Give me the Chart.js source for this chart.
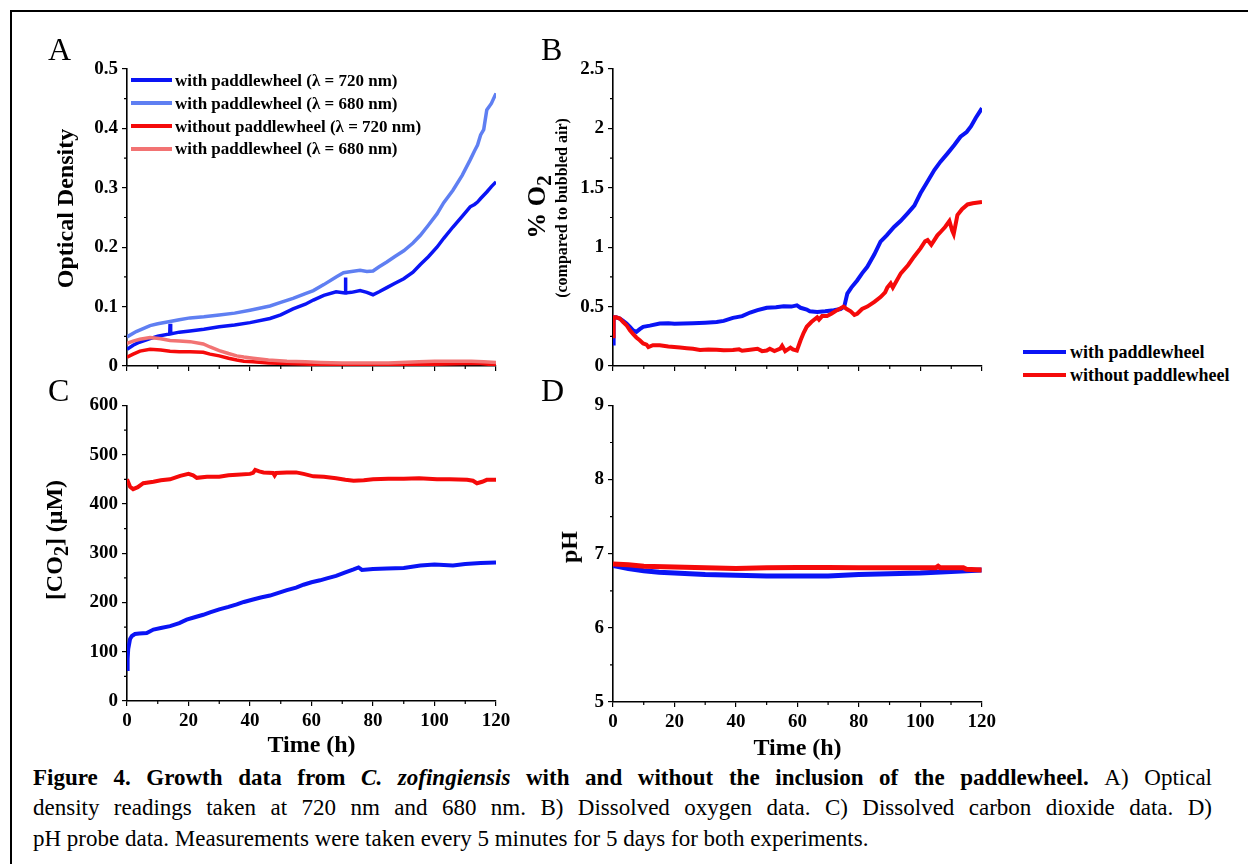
<!DOCTYPE html>
<html>
<head>
<meta charset="utf-8">
<script src="https://cdn.jsdelivr.net/npm/chart.js@4"></script>
<style>
  body { margin: 0; width: 1248px; height: 864px; position: relative; overflow: hidden; background: #fff;
         font-family: "Liberation Serif", "Times New Roman", serif; color: #000; }
  canvas { position: absolute; }
  .t { position: absolute; white-space: nowrap; line-height: 1; }
  .b { font-weight: bold; }
  .t sub { font-size: 0.62em; vertical-align: baseline; position: relative; top: 0.3em; }
  .rot { position: absolute; left: 0; top: 0; white-space: nowrap; line-height: 1; font-weight: bold; transform-origin: 0 0; }
  .key { position: absolute; height: 4px; }
  .cap { position: absolute; left: 33px; width: 1179px; font-size: 23px; line-height: 1; white-space: nowrap; }
  .just { text-align: justify; text-align-last: justify; }
</style>
</head>
<body>
<div style="position:absolute;left:10px;top:10px;width:1238px;height:2px;background:#000"></div>
<div style="position:absolute;left:10px;top:10px;width:2px;height:854px;background:#000"></div>

<canvas id="chartA"></canvas>
<canvas id="chartB"></canvas>
<canvas id="chartC"></canvas>
<canvas id="chartD"></canvas>

<div id="labels"></div>

<div class="cap just b" style="top:765.7px">Figure 4. Growth data from <i>C. zofingiensis</i> with and without the inclusion of the paddlewheel. <span style="font-weight:normal">A) Optical</span></div>
<div class="cap just" style="top:795.7px">density readings taken at 720 nm and 680 nm. B) Dissolved oxygen data. C) Dissolved carbon dioxide data. D)</div>
<div class="cap" style="top:826.7px">pH probe data. Measurements were taken every 5 minutes for 5 days for both experiments.</div>

<script>
// ---- ticks ----
const timeTicks = [0, 20, 40, 60, 80, 100, 120];
const odTicks = [0, 0.1, 0.2, 0.3, 0.4, 0.5];
const o2Ticks = [0, 0.5, 1, 1.5, 2, 2.5];
const co2Ticks = [0, 100, 200, 300, 400, 500, 600];
const phTicks = [5, 6, 7, 8, 9];

// ---- A : optical density ----
const tOdBlue720 = [0, 2, 4, 7.5, 10, 13.9, 14, 14.2, 17, 20.5, 25, 30, 35, 40, 46.5, 50, 54, 58, 60.6, 64, 68, 70.9, 71, 71.2, 73, 75.8, 78, 80, 82, 84.5, 87, 90, 93, 95.4, 98, 100.8, 103, 106, 109, 111.6, 113, 114, 115, 117, 118.5, 120];
const odBlue720 = [0.028, 0.035, 0.040, 0.046, 0.050, 0.054, 0.071, 0.054, 0.057, 0.059, 0.062, 0.066, 0.069, 0.073, 0.080, 0.086, 0.096, 0.104, 0.111, 0.119, 0.125, 0.123, 0.149, 0.123, 0.124, 0.127, 0.124, 0.120, 0.125, 0.132, 0.139, 0.147, 0.158, 0.171, 0.184, 0.200, 0.215, 0.234, 0.252, 0.268, 0.272, 0.276, 0.282, 0.293, 0.302, 0.310];
const tOdBlue680 = [0, 3, 7.5, 10, 14, 17, 20.5, 25, 30, 35, 40, 46.5, 50, 54, 58, 60.6, 64, 68, 70.4, 73, 75.8, 78, 80, 82, 84.5, 87, 90, 93, 95.4, 98, 100.8, 103, 106, 109, 111.6, 113, 114, 115, 116, 117, 118.5, 120];
const odBlue680 = [0.049, 0.058, 0.068, 0.071, 0.075, 0.078, 0.081, 0.083, 0.086, 0.089, 0.094, 0.101, 0.107, 0.114, 0.122, 0.127, 0.137, 0.150, 0.157, 0.159, 0.161, 0.159, 0.160, 0.167, 0.175, 0.184, 0.194, 0.207, 0.220, 0.237, 0.256, 0.275, 0.296, 0.321, 0.347, 0.362, 0.372, 0.389, 0.398, 0.431, 0.442, 0.459];
const tOdRed720 = [0, 2, 4.2, 7.5, 11, 14, 17, 20.5, 24.8, 27, 30, 33, 35.7, 38, 41, 46, 52, 60, 70, 80, 90, 100, 110, 115, 120];
const odRed720 = [0.015, 0.020, 0.025, 0.028, 0.027, 0.025, 0.024, 0.024, 0.023, 0.020, 0.017, 0.013, 0.010, 0.008, 0.007, 0.005, 0.004, 0.003, 0.003, 0.003, 0.003, 0.003, 0.004, 0.004, 0.002];
const tOdRed680 = [0, 2, 4.2, 7.5, 11, 14, 17, 20.5, 24.8, 27, 30, 33, 35.7, 38, 41, 46, 52, 58, 63, 70, 78, 85, 95, 100, 106, 112, 116, 120];
const odRed680 = [0.038, 0.042, 0.045, 0.048, 0.046, 0.043, 0.042, 0.041, 0.037, 0.032, 0.026, 0.021, 0.017, 0.015, 0.013, 0.010, 0.008, 0.007, 0.006, 0.005, 0.005, 0.005, 0.007, 0.008, 0.008, 0.008, 0.007, 0.006];

// ---- B : dissolved oxygen ----
const tO2With = [0, 0.2, 1, 2.2, 3.3, 4.4, 5.5, 6.5, 7.6, 8.7, 9.8, 12, 15.2, 18, 20, 22.9, 26, 30, 33.7, 36, 39, 42, 44.6, 47, 50, 53, 55.5, 58, 59.8, 61, 63, 64, 66.4, 69, 71.8, 74, 75.2, 76.2, 77.5, 79.4, 81, 82.7, 85, 87, 89, 91.4, 93.5, 95.8, 98, 100, 102, 104.5, 106.5, 108.8, 111, 113, 115, 116.4, 118, 120];
const o2With = [0.19, 0.41, 0.41, 0.40, 0.38, 0.357, 0.33, 0.30, 0.287, 0.31, 0.33, 0.34, 0.357, 0.36, 0.355, 0.357, 0.36, 0.365, 0.37, 0.38, 0.405, 0.42, 0.45, 0.47, 0.49, 0.495, 0.503, 0.50, 0.51, 0.49, 0.475, 0.46, 0.455, 0.46, 0.47, 0.48, 0.50, 0.61, 0.66, 0.72, 0.78, 0.835, 0.94, 1.046, 1.10, 1.17, 1.22, 1.285, 1.35, 1.454, 1.54, 1.65, 1.72, 1.79, 1.86, 1.93, 1.97, 2.016, 2.09, 2.17];
const tO2Without = [0, 0.2, 1, 2.2, 3.3, 4.4, 5.5, 6.5, 7.6, 8.7, 9.8, 10.9, 11.5, 13, 15.2, 18, 21.8, 24, 26, 28.3, 31, 33.7, 36, 39, 41, 42, 44.6, 47, 48.5, 50, 51, 52.5, 54.4, 55, 56, 57.7, 58.5, 59.8, 61, 62, 63, 64.5, 66.4, 67, 68, 69.6, 71, 72.9, 75, 76, 77.3, 78.5, 79.4, 81, 82.7, 85, 87, 88.5, 89.2, 90.3, 91, 93.6, 96, 97.9, 100, 101.5, 102.3, 103.5, 104.5, 105.5, 106.6, 108, 109.4, 110.3, 110.8, 112, 113.5, 115.3, 117, 120];
const o2Without = [0.25, 0.41, 0.41, 0.40, 0.37, 0.343, 0.30, 0.27, 0.24, 0.217, 0.19, 0.18, 0.16, 0.175, 0.174, 0.165, 0.155, 0.15, 0.145, 0.135, 0.138, 0.137, 0.132, 0.134, 0.14, 0.128, 0.137, 0.145, 0.125, 0.13, 0.145, 0.125, 0.146, 0.17, 0.125, 0.155, 0.14, 0.13, 0.217, 0.28, 0.33, 0.37, 0.41, 0.39, 0.42, 0.42, 0.44, 0.47, 0.50, 0.48, 0.46, 0.43, 0.44, 0.48, 0.50, 0.54, 0.58, 0.62, 0.66, 0.695, 0.66, 0.78, 0.85, 0.92, 0.99, 1.05, 1.06, 1.02, 1.06, 1.10, 1.13, 1.17, 1.22, 1.14, 1.11, 1.27, 1.32, 1.36, 1.37, 1.38];

// ---- C : dissolved CO2 ----
const tCo2Without = [0, 1, 2, 3.5, 5.3, 8.6, 11, 14, 17.3, 20, 21.5, 22.7, 26, 30, 33, 35.7, 40, 41, 41.7, 43, 44.4, 47.5, 48, 48.5, 52, 55, 57.4, 60.6, 64, 68, 71, 73.7, 77, 80, 85, 90, 95, 100.8, 105, 110.6, 112.5, 113.8, 115.5, 117, 120];
const co2Without = [450, 435, 430, 434, 442, 445, 448, 450, 457, 461, 458, 453, 455, 455, 458, 459, 461, 463, 469, 466, 464, 463, 458, 463, 464, 464, 461, 456, 455, 452, 449, 447, 448, 450, 451, 451, 452, 450, 450, 449, 447, 442, 445, 449, 449];
const tCo2With = [0, 0.2, 0.4, 1, 1.6, 2.6, 4, 6.4, 8.6, 11, 14, 17, 19.4, 22, 24.8, 27, 30, 33, 35.7, 38, 41, 43.5, 46.5, 49, 52, 55, 57.4, 60, 62.8, 65, 68, 71, 73.7, 75.3, 76.4, 80, 84.5, 90, 95.4, 100, 106, 110, 115, 120];
const co2With = [65, 85, 106, 126, 132, 136, 137, 138, 145, 148, 152, 158, 165, 170, 175, 180, 186, 191, 196, 201, 206, 210, 214, 219, 225, 230, 236, 241, 245, 249, 254, 261, 267, 271, 266, 268, 269, 270, 275, 277, 275, 278, 280, 281];

// ---- D : pH ----
const tPhWithout = [0, 5, 10, 20, 30, 40, 50, 60, 70, 80, 90, 100, 105, 105.8, 106.5, 110, 114, 115, 120];
const phWithout = [6.86, 6.85, 6.83, 6.82, 6.81, 6.80, 6.81, 6.815, 6.815, 6.81, 6.81, 6.81, 6.81, 6.83, 6.81, 6.81, 6.81, 6.79, 6.78];
const tPhWith = [0, 5, 10, 15, 20, 30, 40, 50, 60, 70, 80, 90, 100, 110, 115, 120];
const phWith = [6.84, 6.80, 6.77, 6.75, 6.74, 6.72, 6.71, 6.70, 6.70, 6.70, 6.72, 6.73, 6.74, 6.76, 6.77, 6.78];

const BLUE = '#0a14f5', LIGHT_BLUE = '#5f7ff2', RED = '#f50a0a', LIGHT_RED = '#f27373';
const FONT = '"Liberation Serif", "Times New Roman", serif';
Chart.defaults.font.family = FONT;

// petits traits intermédiaires sur les axes
const minorTicks = {
  id: 'minorTicks',
  afterDraw(chart, args, opts) {
    const { ctx, scales: { x, y } } = chart;
    ctx.save();
    ctx.strokeStyle = '#000';
    ctx.lineWidth = 1.2;
    ctx.beginPath();
    opts.x.forEach(v => {
      const p = x.getPixelForValue(v);
      ctx.moveTo(p, x.top); ctx.lineTo(p, x.top + 3);
    });
    opts.y.forEach(v => {
      const p = y.getPixelForValue(v);
      ctx.moveTo(y.right, p); ctx.lineTo(y.right - 3, p);
    });
    ctx.stroke();
    ctx.restore();
  }
};

const midpoints = arr => arr.slice(1).map((v, i) => (v + arr[i]) / 2);

function makePanel(id, box, yTicks, showX, sets, lw) {
  const cv = document.getElementById(id);
  cv.width = box.w; cv.height = box.h;
  cv.style.left = box.x + 'px'; cv.style.top = box.y + 'px';
  const tickFont = { family: FONT, size: 19, weight: 'bold' };
  const grid = { drawOnChartArea: false, drawTicks: true, tickLength: 5, color: '#000', lineWidth: 1.2 };
  const border = { display: true, color: '#000', width: 1.6 };
  return new Chart(cv, {
    type: 'line',
    data: {
      datasets: sets.map(s => ({
        data: s.t.map((x, i) => ({ x, y: s.v[i] })),
        borderColor: s.c, borderWidth: lw, pointRadius: 0, tension: 0, fill: false
      }))
    },
    plugins: [minorTicks],
    options: {
      responsive: false, animation: false, events: [],
      layout: { padding: { top: box.pt, right: box.pr, left: 0, bottom: 0 } },
      plugins: {
        legend: { display: false }, tooltip: { enabled: false },
        minorTicks: { x: midpoints(timeTicks), y: midpoints(yTicks) }
      },
      scales: {
        x: {
          type: 'linear', min: 0, max: 120,
          afterBuildTicks: s => { s.ticks = timeTicks.map(v => ({ value: v })); },
          afterFit: s => { s.height = box.xh; },
          grid, border,
          ticks: { display: showX, font: tickFont, color: '#000', padding: 4, maxRotation: 0, autoSkip: false,
                   callback: v => String(v) }
        },
        y: {
          min: yTicks[0], max: yTicks[yTicks.length - 1],
          afterBuildTicks: s => { s.ticks = yTicks.map(v => ({ value: v })); },
          afterFit: s => { s.width = box.yw; },
          grid, border,
          ticks: { font: tickFont, color: '#000', padding: 4, autoSkip: false,
                   callback: v => String(+v.toFixed(3)) }
        }
      }
    }
  });
}

makePanel('chartA', { x: 20, y: 50, w: 500, h: 340, pt: 19, pr: 24, yw: 107, xh: 24 }, odTicks, false, [
  { t: tOdRed680, v: odRed680, c: LIGHT_RED },
  { t: tOdRed720, v: odRed720, c: RED },
  { t: tOdBlue680, v: odBlue680, c: LIGHT_BLUE },
  { t: tOdBlue720, v: odBlue720, c: BLUE }
], 3.5);

makePanel('chartB', { x: 520, y: 50, w: 480, h: 340, pt: 19, pr: 18, yw: 93, xh: 24 }, o2Ticks, false, [
  { t: tO2Without, v: o2Without, c: RED },
  { t: tO2With, v: o2With, c: BLUE }
], 4);

makePanel('chartC', { x: 20, y: 390, w: 500, h: 370, pt: 14, pr: 24, yw: 107, xh: 59 }, co2Ticks, true, [
  { t: tCo2Without, v: co2Without, c: RED },
  { t: tCo2With, v: co2With, c: BLUE }
], 4);

makePanel('chartD', { x: 520, y: 390, w: 480, h: 370, pt: 15, pr: 18, yw: 93, xh: 58 }, phTicks, true, [
  { t: tPhWithout, v: phWithout, c: RED },
  { t: tPhWith, v: phWith, c: BLUE }
], 5);

// ---- textes HTML ----
const labels = document.getElementById('labels');

// texte horizontal placé par sa ligne de base
function text(html, x, baseline, size, cls, center) {
  const d = document.createElement('div');
  d.className = 't ' + (cls || '');
  d.style.fontSize = size + 'px';
  d.style.left = x + 'px';
  d.style.top = (baseline - 0.8375 * size) + 'px';
  if (center) d.style.transform = 'translateX(-50%)';
  d.innerHTML = html;
  labels.appendChild(d);
}

// texte vertical (bas vers haut), ligne de base à bx, centré sur cy
function vtext(html, bx, cy, size) {
  const d = document.createElement('div');
  d.className = 'rot';
  d.style.fontSize = size + 'px';
  d.style.transform = `translate(${bx}px, ${cy}px) rotate(-90deg) translate(-50%, -0.8375em)`;
  d.innerHTML = html;
  labels.appendChild(d);
}

function key(color, x1, x2, y) {
  const d = document.createElement('div');
  d.className = 'key';
  d.style.background = color;
  d.style.left = x1 + 'px'; d.style.width = (x2 - x1) + 'px';
  d.style.top = (y - 2) + 'px';
  labels.appendChild(d);
}

text('A', 48, 60, 32);
text('B', 541, 60, 32);
text('C', 48, 401, 32);
text('D', 541, 401, 32);

vtext('Optical Density', 73, 208.5, 24);
vtext('% O<sub>2</sub>', 546, 207, 26);
vtext('(compared to bubbled air)', 567, 208, 16);
vtext('[CO<sub>2</sub>] (&mu;M)', 62, 540, 24);
vtext('pH', 577, 547, 24);

text('Time (h)', 311.5, 752, 24, 'b', true);
text('Time (h)', 797.5, 755, 24, 'b', true);

// légende du panneau A
const odLegend = ['with paddlewheel (λ = 720 nm)', 'with paddlewheel (λ = 680 nm)', 'without paddlewheel (λ = 720 nm)', 'with paddlewheel (λ = 680 nm)'];
const odColors = [BLUE, LIGHT_BLUE, RED, LIGHT_RED];
odLegend.forEach((name, i) => {
  const y = 80.3 + i * 22.8;
  key(odColors[i], 131, 172, y);
  text(name, 175, y + 6, 17, 'b');
});

// légende commune B-D
const sideLegend = ['with paddlewheel', 'without paddlewheel'];
const sideColors = [BLUE, RED];
sideLegend.forEach((name, i) => {
  const y = 352.3 + i * 23;
  key(sideColors[i], 1023, 1066, y);
  text(name, 1070, y + 6, 18, 'b');
});
</script>
</body>
</html>
